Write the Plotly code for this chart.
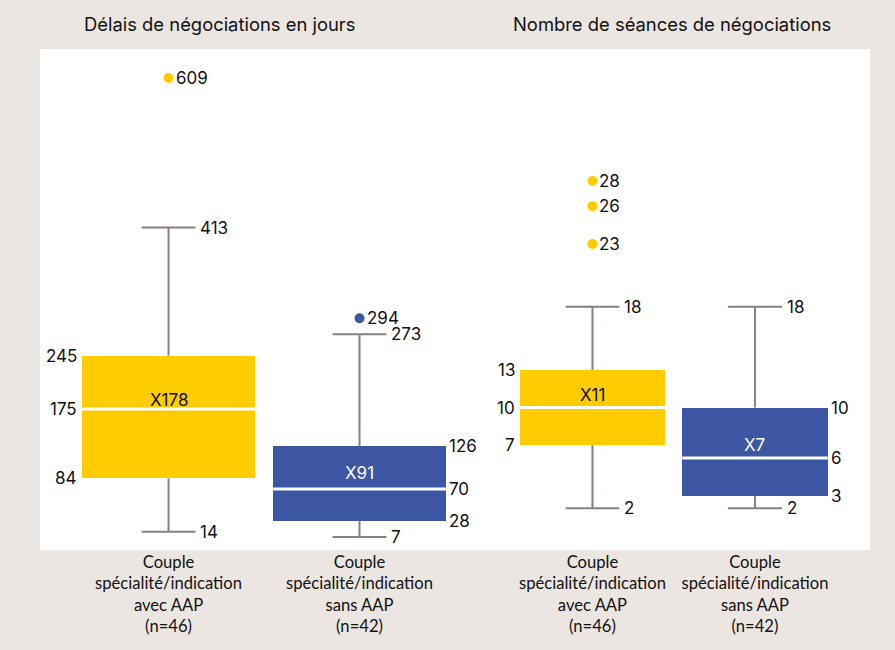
import plotly.graph_objects as go
from plotly.subplots import make_subplots

# categories
groups = [
    "Couple<br>spécialité/indication<br>avec AAP<br>(n=46)",
    "Couple<br>spécialité/indication<br>sans AAP<br>(n=42)",
]
colors = ["#FFCC00", "#3C56A3"]
mean_text_colors = ["#111111", "#FFFFFF"]

# Délais de négociations en jours
delai_min = [14, 7]
delai_q1 = [84, 28]
delai_median = [175, 70]
delai_q3 = [245, 126]
delai_max = [413, 273]
delai_mean = [178, 91]
delai_outliers = [[609], [294]]

# Nombre de séances de négociations
seances_min = [2, 2]
seances_q1 = [7, 3]
seances_median = [10, 6]
seances_q3 = [13, 10]
seances_max = [18, 18]
seances_mean = [11, 7]
seances_outliers = [[28, 26, 23], []]

titles = ["Délais de négociations en jours", "Nombre de séances de négociations"]

WHISKER = "#8A807B"
NUM_FONT = dict(family="Inter, Lato, sans-serif", size=17, color="#111111")
PLOT_H = 501  # height of the white panel in px

fig = make_subplots(rows=1, cols=2, horizontal_spacing=0)


def add_panel(col, vmin, q1, med, q3, vmax, mean, outliers, box_w, cap_w, yrange):
    pos = list(range(len(groups)))
    xr = "x" if col == 1 else "x2"
    yr = "y" if col == 1 else "y2"
    ppu = PLOT_H / (yrange[1] - yrange[0])

    # whiskers + caps
    wx, wy = [], []
    for p, lo, a, b, hi in zip(pos, vmin, q1, q3, vmax):
        wx += [p, p, None, p, p, None, p - cap_w, p + cap_w, None, p - cap_w, p + cap_w, None]
        wy += [b, hi, None, a, lo, None, hi, hi, None, lo, lo, None]
    fig.add_trace(go.Scatter(x=wx, y=wy, mode="lines", line=dict(color=WHISKER, width=2),
                             hoverinfo="skip", showlegend=False), row=1, col=col)

    # boxes
    fig.add_trace(go.Bar(x=pos, y=[b - a for a, b in zip(q1, q3)], base=q1, width=box_w,
                         marker=dict(color=colors, line=dict(width=0)),
                         showlegend=False), row=1, col=col)

    # medians
    mx, my = [], []
    for p, m in zip(pos, med):
        mx += [p - box_w / 2, p + box_w / 2, None]
        my += [m, m, None]
    fig.add_trace(go.Scatter(x=mx, y=my, mode="lines", line=dict(color="white", width=3),
                             hoverinfo="skip", showlegend=False), row=1, col=col)

    # outliers
    for p, outs, c in zip(pos, outliers, colors):
        if outs:
            fig.add_trace(go.Scatter(x=[p] * len(outs), y=outs, mode="markers",
                                     marker=dict(color=c, size=10), showlegend=False),
                          row=1, col=col)
            for v in outs:
                fig.add_annotation(x=p, y=v, xref=xr, yref=yr, text=str(v), showarrow=False,
                                   xanchor="left", xshift=5, font=NUM_FONT)

    for i, p in enumerate(pos):
        # whisker end labels
        for v in (vmax[i], vmin[i]):
            fig.add_annotation(x=p + cap_w, y=v, xref=xr, yref=yr, text=str(v), showarrow=False,
                               xanchor="left", xshift=3, font=NUM_FONT)
        # box labels: left side for first group, right side for second
        if i == 0:
            bx, anchor, shift = p - box_w / 2, "right", -3
        else:
            bx, anchor, shift = p + box_w / 2, "left", 1
        for v in (q3[i], med[i], q1[i]):
            fig.add_annotation(x=bx, y=v, xref=xr, yref=yr, text=str(v), showarrow=False,
                               xanchor=anchor, xshift=shift, font=NUM_FONT)
        # mean, kept clear of the median line
        lift = max(0, 8.5 - (mean[i] - med[i]) * ppu)
        fig.add_annotation(x=p, y=mean[i], xref=xr, yref=yr, text="X" + str(mean[i]),
                           showarrow=False, xanchor="center", yanchor="middle", yshift=lift,
                           font=dict(family=NUM_FONT["family"], size=17,
                                     color=mean_text_colors[i]))


yr1 = [-9.97, 647.1]
yr2 = [-1.31, 38.48]
add_panel(1, delai_min, delai_q1, delai_median, delai_q3, delai_max, delai_mean,
          delai_outliers, 0.905, 0.141, yr1)
add_panel(2, seances_min, seances_q1, seances_median, seances_q3, seances_max, seances_mean,
          seances_outliers, 0.895, 0.166, yr2)

for xpos, t in zip([0.2157, 0.762], titles):
    fig.add_annotation(x=xpos, y=1.05, xref="paper", yref="paper", text=t, showarrow=False,
                       xanchor="center", yanchor="middle",
                       font=dict(family=NUM_FONT["family"], size=18.4, color="#111111"))

axis_common = dict(showgrid=False, zeroline=False, showline=False, fixedrange=True)
fig.update_xaxes(tickvals=[0, 1], ticktext=groups, ticks="",
                 tickfont=dict(family="Lato, sans-serif", size=16.6, color="#111111"),
                 **axis_common)
fig.update_yaxes(showticklabels=False, ticks="", **axis_common)
fig.update_xaxes(range=[-0.673, 1.5], row=1, col=1)
fig.update_xaxes(range=[-0.846, 1.708], row=1, col=2)
fig.update_yaxes(range=yr1, row=1, col=1)
fig.update_yaxes(range=yr2, row=1, col=2)

fig.add_shape(type="rect", xref="paper", yref="paper", x0=0, x1=1, y0=0, y1=1,
              fillcolor="white", line=dict(width=0), layer="below")

fig.update_layout(
    width=895, height=650,
    margin=dict(l=40, r=25, t=49, b=100),
    paper_bgcolor="#ECE6E2",
    plot_bgcolor="white",
    bargap=0,
    showlegend=False,
)

fig.write_html("out.html", config={"displayModeBar": False},
               post_script="document.body.style.margin='0';"
                           "document.body.style.background='#ECE6E2';")
